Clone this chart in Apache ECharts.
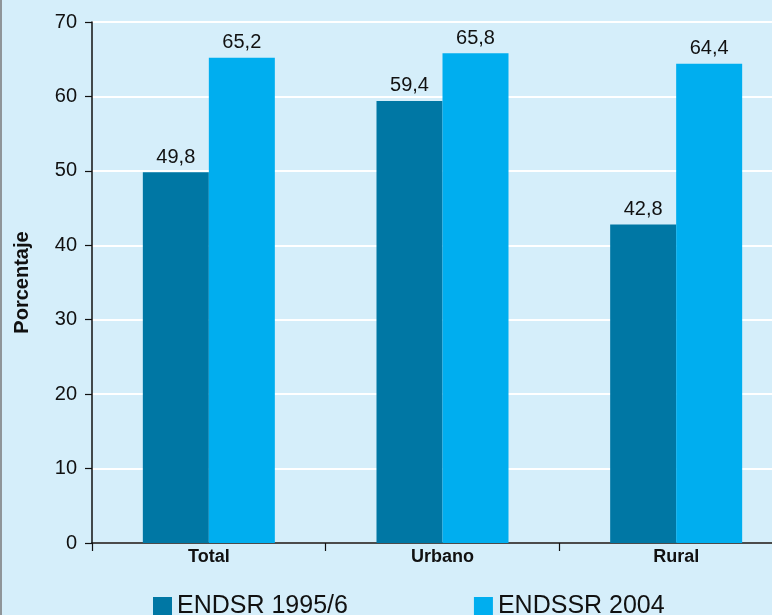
<!DOCTYPE html>
<html>
<head>
<meta charset="utf-8">
<script src="https://cdn.jsdelivr.net/npm/echarts@6/dist/echarts.min.js"></script>
<style>
  html, body { margin: 0; padding: 0; background: #d5eefa; overflow: hidden; }
  /* the plot runs past the right edge of the page */
  #chart { width: 793px; height: 615px; }
</style>
</head>
<body>
<div id="chart"></div>
<script>
// Categories, series and axis ticks
const categories = ['Total', 'Urbano', 'Rural'];
const seriesNames = ['ENDSR 1995/6', 'ENDSSR 2004'];
const endsr1995 = [49.8, 59.4, 42.8];
const endssr2004 = [65.2, 65.8, 64.4];
const yTicks = [0, 10, 20, 30, 40, 50, 60, 70];

const colors = ['#0077a4', '#00aeef'];
const fmt = p => String(p.value).replace('.', ',');
const sans = "'Liberation Sans', Arial, sans-serif";

const chart = echarts.init(document.getElementById('chart'), null, { renderer: 'canvas' });

const labelStyle = {
  show: true,
  position: 'top',
  distance: 5,
  formatter: fmt,
  color: '#111',
  fontFamily: sans,
  fontSize: 20
};

chart.setOption({
  backgroundColor: '#d5eefa',
  animation: false,
  color: colors,
  grid: { left: 92, right: 0, top: 22, bottom: 72, containLabel: false },
  graphic: [{
    type: 'rect',
    shape: { x: 0, y: 0, width: 2, height: 615 },
    style: { fill: '#8f9599' },
    silent: true
  }],
  legend: {
    left: 148,
    top: 589,
    itemWidth: 19,
    itemHeight: 19,
    itemGap: 126,
    icon: 'rect',
    data: seriesNames,
    textStyle: {
      fontFamily: sans,
      fontSize: 25,
      color: '#111'
    }
  },
  xAxis: {
    type: 'category',
    data: categories,
    boundaryGap: true,
    axisLine: { lineStyle: { color: '#111', width: 1.5 } },
    axisTick: { show: true, length: 8, alignWithLabel: false, lineStyle: { color: '#111', width: 1.2 } },
    axisLabel: {
      margin: 5,
      color: '#111',
      fontWeight: 'bold',
      fontFamily: sans,
      fontSize: 18
    },
    splitLine: { show: false }
  },
  yAxis: {
    type: 'value',
    min: yTicks[0],
    max: yTicks[yTicks.length - 1],
    interval: 10,
    name: 'Porcentaje',
    nameLocation: 'middle',
    nameGap: 60,
    nameRotate: 90,
    nameTextStyle: {
      color: '#111',
      fontWeight: 'bold',
      fontFamily: sans,
      fontSize: 20
    },
    axisLine: { show: true, lineStyle: { color: '#111', width: 1.5 } },
    axisTick: { show: true, length: 7, lineStyle: { color: '#111', width: 1.2 } },
    axisLabel: {
      margin: 15,
      color: '#111',
      fontFamily: sans,
      fontSize: 20
    },
    splitLine: { show: true, lineStyle: { color: '#ffffff', width: 2 } }
  },
  series: [
    {
      name: seriesNames[0],
      type: 'bar',
      data: endsr1995,
      barWidth: 66,
      barGap: '0%',
      itemStyle: { color: colors[0] },
      label: labelStyle
    },
    {
      name: seriesNames[1],
      type: 'bar',
      data: endssr2004,
      barWidth: 66,
      barGap: '0%',
      itemStyle: { color: colors[1] },
      label: labelStyle
    }
  ]
});
</script>
</body>
</html>
